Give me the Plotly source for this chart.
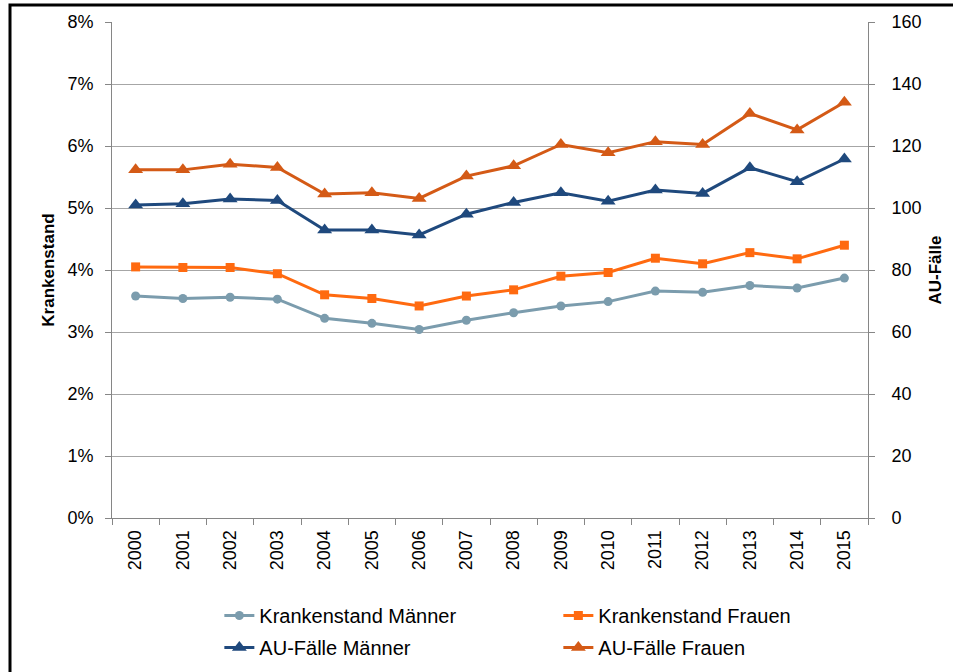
import plotly.graph_objects as go

years = [str(y) for y in range(2000, 2016)]
kr_maenner = [3.58, 3.54, 3.56, 3.53, 3.22, 3.14, 3.04, 3.19, 3.31, 3.42, 3.49, 3.66, 3.64, 3.75, 3.71, 3.87]
kr_frauen = [4.05, 4.04, 4.04, 3.94, 3.60, 3.54, 3.42, 3.58, 3.68, 3.90, 3.96, 4.19, 4.10, 4.28, 4.18, 4.40]
au_maenner = [101.0, 101.4, 102.9, 102.4, 92.9, 92.9, 91.3, 98.0, 101.8, 104.9, 102.2, 105.8, 104.7, 113.0, 108.5, 115.8]
au_frauen = [112.3, 112.3, 114.1, 113.1, 104.5, 104.9, 103.1, 110.3, 113.6, 120.5, 117.8, 121.4, 120.5, 130.5, 125.2, 134.1]

C_KM = "#7B9CAD"
C_KF = "#FF6A10"
C_AM = "#1F497D"
C_AF = "#D45A16"

FONT = "Liberation Sans, Arial, sans-serif"

fig = go.Figure()
fig.add_trace(go.Scatter(x=years, y=kr_maenner, name="Krankenstand Männer", mode="lines+markers",
                         line=dict(color=C_KM, width=3), marker=dict(symbol="circle", size=9, color=C_KM),
                         legend="legend"))
fig.add_trace(go.Scatter(x=years, y=kr_frauen, name="Krankenstand Frauen", mode="lines+markers",
                         line=dict(color=C_KF, width=3), marker=dict(symbol="square", size=9, color=C_KF),
                         legend="legend"))
fig.add_trace(go.Scatter(x=years, y=au_maenner, name="AU-Fälle Männer", mode="lines+markers", yaxis="y2",
                         line=dict(color=C_AM, width=3), marker=dict(symbol="triangle-up", size=13, color=C_AM),
                         legend="legend2"))
fig.add_trace(go.Scatter(x=years, y=au_frauen, name="AU-Fälle Frauen", mode="lines+markers", yaxis="y2",
                         line=dict(color=C_AF, width=3), marker=dict(symbol="triangle-up", size=13, color=C_AF),
                         legend="legend2"))

axis_line = "#868686"
grid = "#A6A6A6"

fig.update_layout(
    width=953, height=672,
    margin=dict(l=112, r=85, t=22, b=154),
    paper_bgcolor="white", plot_bgcolor="white",
    font=dict(family=FONT, size=18, color="black"),
    xaxis=dict(type="category", range=[-0.5, 15.5], showgrid=False, showline=True, linecolor=axis_line,
               linewidth=1, ticks="outside", ticklen=6, tickcolor=axis_line, tickson="boundaries",
               tickangle=-90, tickfont=dict(size=18), ticklabelstandoff=4),
    yaxis=dict(range=[0, 8], dtick=1, ticksuffix="%", showgrid=True, gridcolor=grid, gridwidth=1,
               showline=True, linecolor=axis_line, ticks="outside", ticklen=6, tickcolor=axis_line,
               tickfont=dict(size=18), ticklabelstandoff=8, zeroline=False,
               title=dict(text="<b>Krankenstand</b>", font=dict(size=17), standoff=8)),
    yaxis2=dict(range=[0, 160], dtick=20, overlaying="y", side="right", showgrid=False,
                showline=True, linecolor=axis_line, ticks="outside", ticklen=6, tickcolor=axis_line,
                tickfont=dict(size=18), ticklabelstandoff=13, zeroline=False,
                title=dict(text="<b>AU-Fälle</b>", font=dict(size=17), standoff=8)),
    legend=dict(orientation="h", x=0.142, xanchor="left", y=0.1131, yref="container", yanchor="top",
                entrywidth=294, entrywidthmode="pixels", font=dict(size=20), bgcolor="rgba(0,0,0,0)",
                traceorder="normal"),
    legend2=dict(orientation="h", x=0.142, xanchor="left", y=0.0655, yref="container", yanchor="top",
                 entrywidth=294, entrywidthmode="pixels", font=dict(size=20), bgcolor="rgba(0,0,0,0)",
                 traceorder="normal"),
    shapes=[dict(type="rect", xref="paper", yref="paper",
                 x0=(10 - 112) / 756, x1=(1010 - 112) / 756,
                 y0=(518 - 720) / 496, y1=1 + (22 - 5) / 496,
                 line=dict(color="black", width=3), fillcolor="rgba(0,0,0,0)", layer="above")],
)

fig.write_html("out.html", config={"displayModeBar": False},
               post_script="document.body.style.margin='0';")
